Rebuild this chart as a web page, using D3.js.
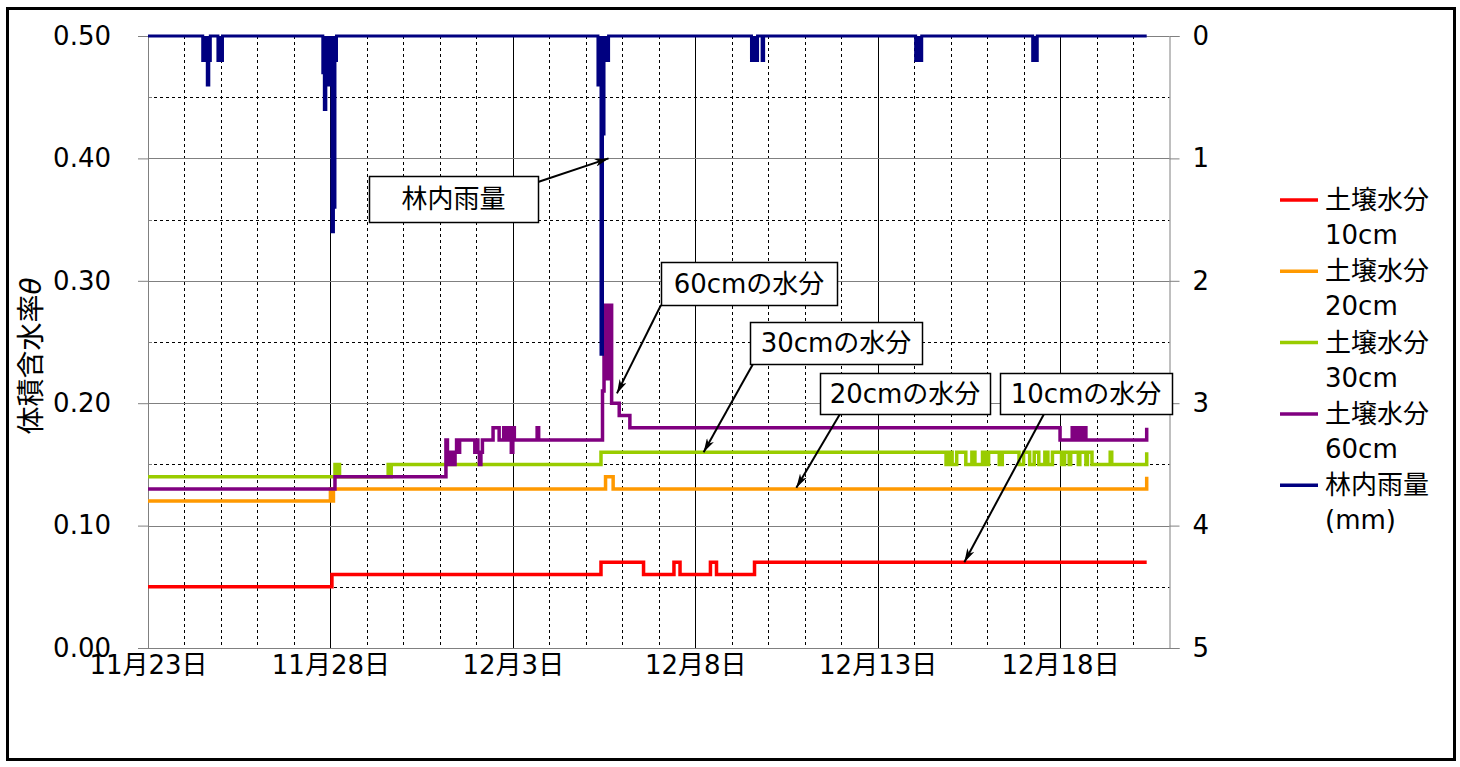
<!DOCTYPE html>
<html><head><meta charset="utf-8">
<script src="https://cdn.jsdelivr.net/npm/d3@7"></script>
<style>
html,body{margin:0;padding:0;background:#fff;}
text{font-family:"DejaVu Sans","Noto Sans CJK JP",sans-serif;fill:#000;}
</style></head>
<body><svg id="c" width="1460" height="767"></svg>
<script>
// ---- data (hours since 11/23 00:00, value) step breakpoints ----
const startDate = "2008-11-23";
const endDate = "2008-12-21";
const xTickLabels = ["2008-11-23","2008-11-28","2008-12-03","2008-12-08","2008-12-13","2008-12-18"];
const yTicksLeft = [0,0.1,0.2,0.3,0.4,0.5];
const yTicksRight = [0,1,2,3,4,5];

const soil10 = [[0,0.05],[121,0.06],[298,0.07],[326,0.06],[346,0.07],[350,0.06],[370,0.07],[374,0.06],[399,0.07],[657,0.07]];
const soil20 = [[0,0.12],[120,0.13],[121,0.12],[122,0.13],[301,0.14],[306,0.13],[657,0.14]];
const soil30 = [[0,0.14],[123,0.15],[124,0.14],[125,0.15],[126,0.14],[158,0.15],[159,0.14],[160,0.15],[298,0.16],
 [525,0.15],[527,0.16],[529,0.15],[532,0.16],[538,0.15],[542,0.16],[544,0.15],[549,0.16],[551,0.15],[553,0.16],
 [560,0.15],[562,0.16],[573,0.15],[576,0.16],[580,0.15],[583,0.16],[586,0.15],[590,0.16],[592,0.15],[595,0.16],
 [601,0.15],[603,0.16],[606,0.15],[607,0.16],[612,0.15],[613,0.16],[617,0.15],[618,0.16],[621,0.15],[633,0.16],
 [634,0.15],[657,0.16]];
const soil60 = [[0,0.13],[123,0.14],[196,0.17],[197,0.15],[198,0.16],[199,0.15],[200,0.16],[201,0.15],[202,0.16],
 [203,0.17],[204,0.16],[205,0.17],[215,0.16],[216,0.17],[217,0.16],[218,0.15],[219,0.16],[220,0.17],[227,0.18],
 [231,0.17],[234,0.18],[236,0.17],[238,0.18],[239,0.16],[240,0.18],[241,0.17],[256,0.18],[257,0.17],[299,0.21],
 [300,0.28],[302,0.22],[303,0.28],[305,0.20],[310,0.19],[317,0.18],[600,0.17],[608,0.18],[609,0.17],[610,0.18],
 [612,0.17],[613,0.18],[615,0.17],[616,0.18],[617,0.17],[657,0.18]];
const rain = [[0,0],[36,0.2],[39,0.4],[40,0.2],[41,0],[46,0.2],[49,0],
 [115,0.3],[116,0.6],[117,0.4],[121,1.6],[122,1.4],[123,0.2],[124,0],
 [296,0.4],[298,2.6],[299,0.8],[300,0.2],[303,0],
 [397,0.2],[401,0],[404,0.2],[405,0],[505,0.2],[509,0],[582,0.2],[585,0],[657,0]];

const seriesNames = [["土壌水分","10cm"],["土壌水分","20cm"],["土壌水分","30cm"],["土壌水分","60cm"],["林内雨量","(mm)"]];
const seriesColors = ["#FF0000","#FF9900","#99CC00","#800080","#000080"];
const yTitle = "体積含水率θ";
const notes = [
 {text:"林内雨量", hour:303, val:1.0, axis:"r"},
 {text:"60cmの水分", hour:308.5, val:0.208, axis:"l"},
 {text:"30cmの水分", hour:365.5, val:0.16, axis:"l"},
 {text:"20cmの水分", hour:426.5, val:0.131, axis:"l"},
 {text:"10cmの水分", hour:537, val:0.07, axis:"l"}
];
// ---- layout ----
const boxes = [
 {x:369,y:176,w:169,h:46, ax:538, ay:182},
 {x:661,y:262,w:176,h:43, ax:661, ay:305},
 {x:750,y:322,w:172,h:42, ax:753, ay:364},
 {x:820,y:373,w:170,h:41, ax:840, ay:414},
 {x:1000,y:373,w:172,h:41, ax:1044, ay:414}
];

const svg = d3.select("#c");
const L=148, R=1169.5, T=36, B=648;
const t0 = new Date(startDate+"T00:00:00Z");
const hd = h => new Date(t0.getTime()+h*3600e3);
const x = d3.scaleUtc().domain([t0, new Date(endDate+"T00:00:00Z")]).range([L,R]);
const y = d3.scaleLinear().domain([0,0.5]).range([B,T]);
const yr = d3.scaleLinear().domain([0,5]).range([T,B]);

svg.append("rect").attr("x",7.5).attr("y",8.5).attr("width",1447).attr("height",751)
  .attr("fill","#fff").attr("stroke","#000").attr("stroke-width",3);

const grid = svg.append("g");
d3.range(0.05,0.5,0.1).forEach(v=>{
  grid.append("line").attr("x1",L).attr("x2",R).attr("y1",Math.round(y(v))+0.5).attr("y2",Math.round(y(v))+0.5)
   .attr("stroke","#000").attr("stroke-dasharray","3,3");
});
const days = d3.utcDay.range(d3.utcDay.offset(t0,1), x.domain()[1]);
const majorSet = new Set(xTickLabels);
days.forEach(d=>{
  const k = d3.utcFormat("%Y-%m-%d")(d);
  const xx = Math.round(x(d))+0.5;
  const ln = grid.append("line").attr("x1",xx).attr("x2",xx).attr("y1",T).attr("y2",B).attr("stroke","#000");
  if(!majorSet.has(k)) ln.attr("stroke-dasharray","3,3");
});
yTicksLeft.forEach(v=>{
  grid.append("line").attr("x1",L).attr("x2",R).attr("y1",Math.round(y(v))+0.5).attr("y2",Math.round(y(v))+0.5)
   .attr("stroke","#808080");
});

const fs = 26;
const axL = svg.append("g").attr("transform",`translate(${L},0)`)
  .call(d3.axisLeft(y).tickValues(yTicksLeft).tickFormat(d3.format(".2f")).tickSize(10).tickPadding(27));
const axR = svg.append("g").attr("transform",`translate(${R},0)`)
  .call(d3.axisRight(yr).tickValues(yTicksRight).tickFormat(d3.format("d")).tickSize(10).tickPadding(13));
const axB = svg.append("g").attr("transform",`translate(0,${B})`)
  .call(d3.axisBottom(x).tickValues(xTickLabels.map(s=>new Date(s+"T00:00:00Z"))).tickFormat(d3.utcFormat("%-m月%-d日")).tickSize(0).tickPadding(8));
[axL,axR,axB].forEach(a=>{
  a.selectAll(".domain").attr("stroke","#808080");
  a.selectAll(".tick line").attr("stroke","#808080");
  a.selectAll("text").style("font-size",fs+"px").attr("fill","#000").style("font-family",'"DejaVu Sans","Noto Sans CJK JP",sans-serif');
});
d3.range(0.05,0.5,0.1).forEach(v=>{
  svg.append("line").attr("x1",L).attr("x2",L+4).attr("y1",Math.round(y(v))+0.5).attr("y2",Math.round(y(v))+0.5).attr("stroke","#808080");
});

svg.append("text").attr("transform",`translate(41,356) rotate(-90)`).attr("text-anchor","middle")
  .style("font-size","28px").text(yTitle.slice(0,-1)).append("tspan").style("font-style","italic").text(yTitle.slice(-1));

const line = d3.line().x(d=>x(hd(d[0]))).y(d=>y(d[1])).curve(d3.curveStepAfter);
const lineR = d3.line().x(d=>x(hd(d[0]))).y(d=>yr(d[1])).curve(d3.curveStepAfter);
const areaR = d3.area().x(d=>x(hd(d[0]))).y0(yr(0)).y1(d=>yr(d[1])).curve(d3.curveStepAfter);
[soil10,soil20,soil30,soil60].forEach((s,i)=>{
  svg.append("path").attr("d",line(s)).attr("fill","none").attr("stroke",seriesColors[i]).attr("stroke-width",3.5);
});
svg.append("path").attr("d",areaR(rain)).attr("fill",seriesColors[4]).attr("stroke","none");
svg.append("path").attr("d",lineR(rain)).attr("fill","none").attr("stroke",seriesColors[4]).attr("stroke-width",3);

const lg = svg.append("g");
seriesNames.forEach((n,i)=>{
  const yy = 200 + i*71.3;
  lg.append("line").attr("x1",1280).attr("x2",1318).attr("y1",yy).attr("y2",yy).attr("stroke",seriesColors[i]).attr("stroke-width",3.5);
  const t = lg.append("text").attr("x",1325).attr("y",yy+9).style("font-size",fs+"px");
  t.append("tspan").attr("x",1325).text(n[0]);
  t.append("tspan").attr("x",1325).attr("dy",35).text(n[1]);
});

const defs = svg.append("defs");
defs.append("marker").attr("id","ah").attr("viewBox","0 0 14 8").attr("refX",14).attr("refY",4)
  .attr("markerWidth",14).attr("markerHeight",8).attr("markerUnits","userSpaceOnUse").attr("orient","auto")
  .append("path").attr("d","M0,0 L14,4 L0,8 L4,4 Z").attr("fill","#000");
notes.forEach((n,i)=>{
  const b = boxes[i];
  const tx = x(hd(n.hour)), ty = n.axis==="r" ? yr(n.val) : y(n.val);
  svg.append("line").attr("x1",b.ax).attr("y1",b.ay).attr("x2",tx).attr("y2",ty)
    .attr("stroke","#000").attr("stroke-width",2).attr("marker-end","url(#ah)");
  svg.append("rect").attr("x",b.x+0.5).attr("y",b.y+0.5).attr("width",b.w).attr("height",b.h)
    .attr("fill","#fff").attr("stroke","#000").attr("stroke-width",1.5);
  svg.append("text").attr("x",b.x+b.w/2).attr("y",b.y+b.h/2+9).attr("text-anchor","middle")
    .style("font-size",fs+"px").text(n.text);
});
</script></body></html>
